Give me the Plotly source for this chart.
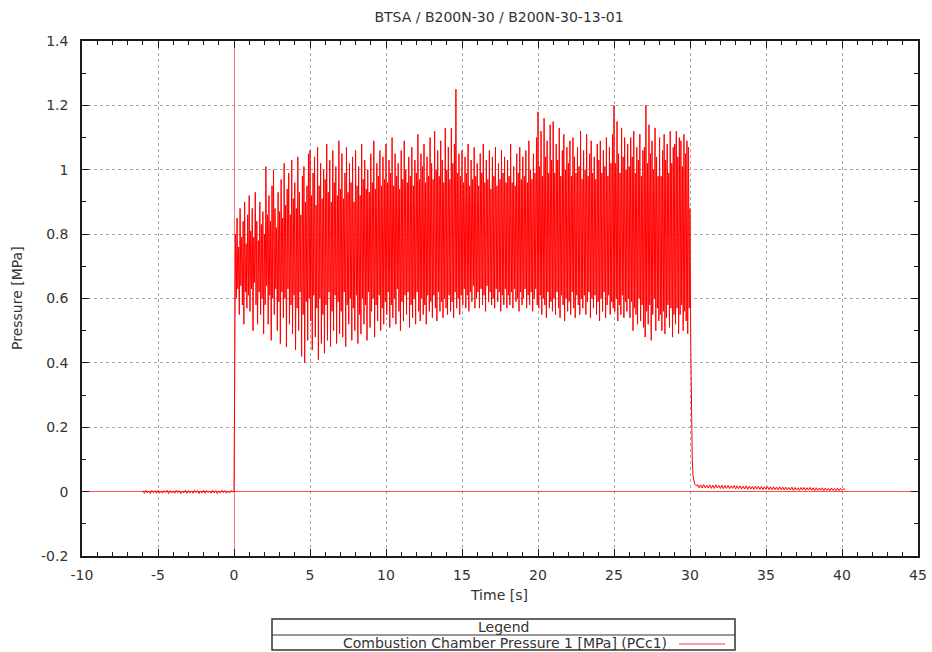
import plotly.graph_objects as go

# ---------------- data ----------------
TITLE = "BTSA / B200N-30 / B200N-30-13-01"
SERIES_NAME = "Combustion Chamber Pressure 1 [MPa] (PCc1)"
LEGEND_TITLE = "Legend"
X_TITLE = "Time [s]"
Y_TITLE = "Pressure [MPa]"

# pre-ignition baseline: start -6.0 s, one sample every 0.1 s
pre_start, pre_step = -6.0, 0.1
pre_values = [0.003, -0.005, 0.004, -0.004, 0.002, -0.006, 0.004, -0.003, 0.003, -0.005,
              0.004, -0.004, 0.002, -0.005, 0.003, -0.003, 0.004, -0.006, 0.003, -0.004,
              0.002, -0.005, 0.004, -0.003, 0.003, -0.006, 0.002, -0.004, 0.004, -0.005,
              0.003, -0.004, 0.002, -0.005, 0.004, -0.003, 0.003, -0.006, 0.002, -0.004,
              0.004, -0.005, 0.003, -0.003, 0.002, -0.005, 0.004, -0.004, 0.003, -0.006,
              0.002, -0.004, 0.004, -0.003, 0.003, -0.005, 0.002, -0.004, 0.003, 0.000]

# firing: start 0.0 s, one sample every 0.05 s (peaks and troughs)
burn_start, burn_step = 0.0, 0.05
burn_values = [
    0.00, 0.66, 0.80, 0.60, 0.85, 0.63, 0.76, 0.55, 0.88, 0.64, 0.79, 0.58, 0.84, 0.52, 0.90, 0.62, 0.77, 0.57, 0.86, 0.61,
    0.92, 0.56, 0.81, 0.63, 0.88, 0.50, 0.79, 0.65, 0.93, 0.58, 0.84, 0.52, 0.78, 0.62, 0.90, 0.55, 0.83, 0.60, 0.87, 0.49,
    0.80, 0.58, 1.01, 0.64, 0.86, 0.52, 0.92, 0.61, 0.84, 0.47, 0.95, 0.60, 1.00, 0.55, 0.88, 0.63, 0.82, 0.50, 0.93, 0.59,
    0.87, 0.46, 0.97, 0.62, 0.85, 0.54, 1.02, 0.60, 0.89, 0.45, 0.94, 0.63, 0.99, 0.52, 0.86, 0.58, 1.03, 0.49, 0.91, 0.61,
    0.96, 0.44, 0.88, 0.57, 1.04, 0.50, 0.93, 0.62, 0.86, 0.42, 0.98, 0.55, 1.01, 0.40, 0.90, 0.59, 0.95, 0.47, 1.05, 0.60,
    1.06, 0.53, 0.92, 0.44, 0.99, 0.61, 1.04, 0.48, 0.89, 0.57, 1.07, 0.41, 0.95, 0.60, 1.02, 0.46, 0.91, 0.55, 1.00, 0.43,
    0.97, 0.58, 1.08, 0.47, 0.93, 0.62, 1.03, 0.45, 0.90, 0.56, 1.06, 0.50, 0.96, 0.61, 1.01, 0.46, 0.92, 0.59, 1.09, 0.49,
    0.94, 0.56, 1.05, 0.48, 0.91, 0.62, 0.99, 0.45, 1.07, 0.58, 0.93, 0.52, 1.02, 0.60, 0.96, 0.47, 1.04, 0.57, 0.90, 0.50,
    1.06, 0.61, 0.95, 0.46, 1.01, 0.55, 0.92, 0.49, 1.08, 0.60, 0.97, 0.52, 1.03, 0.58, 0.94, 0.47, 1.00, 0.62, 0.93, 0.51,
    1.05, 0.56, 0.96, 0.60, 1.09, 0.48, 0.94, 0.58, 1.02, 0.53, 0.98, 0.61, 1.06, 0.50, 0.95, 0.57, 1.04, 0.52, 0.97, 0.59,
    1.08, 0.55, 0.96, 0.62, 1.03, 0.51, 0.99, 0.58, 1.10, 0.54, 0.95, 0.60, 1.05, 0.52, 0.98, 0.63, 1.02, 0.56, 0.94, 0.50,
    1.06, 0.59, 0.97, 0.53, 1.09, 0.61, 1.00, 0.55, 0.96, 0.62, 1.04, 0.51, 0.98, 0.58, 1.07, 0.54, 0.95, 0.60, 1.03, 0.52,
    0.99, 0.62, 1.11, 0.56, 0.97, 0.53, 1.05, 0.60, 1.01, 0.55, 1.08, 0.58, 0.96, 0.52, 1.04, 0.61, 0.98, 0.56, 1.10, 0.59,
    1.02, 0.54, 0.97, 0.61, 1.12, 0.57, 1.00, 0.53, 1.06, 0.62, 0.98, 0.56, 1.09, 0.59, 1.03, 0.54, 0.96, 0.60, 1.13, 0.57,
    1.00, 0.55, 1.07, 0.61, 0.97, 0.56, 1.13, 0.59, 1.02, 0.54, 1.08, 0.62, 1.25, 0.57, 0.99, 0.60, 1.05, 0.55, 0.98, 0.61,
    1.06, 0.58, 0.96, 0.63, 1.04, 0.57, 0.99, 0.61, 1.08, 0.56, 0.95, 0.62, 1.03, 0.59, 0.97, 0.64, 1.07, 0.57, 0.98, 0.60,
    1.02, 0.62, 0.95, 0.57, 1.05, 0.63, 0.99, 0.58, 1.08, 0.61, 0.96, 0.56, 1.03, 0.64, 0.97, 0.59, 1.06, 0.62, 0.94, 0.58,
    1.04, 0.60, 0.98, 0.57, 1.07, 0.63, 0.95, 0.59, 1.02, 0.62, 0.97, 0.56, 1.06, 0.61, 0.99, 0.58, 1.04, 0.63, 0.96, 0.57,
    1.03, 0.61, 0.98, 0.58, 1.08, 0.62, 0.96, 0.57, 1.01, 0.63, 0.95, 0.59, 1.05, 0.60, 0.99, 0.56, 1.07, 0.62, 0.97, 0.58,
    1.04, 0.60, 0.98, 0.63, 1.06, 0.57, 0.96, 0.61, 1.09, 0.58, 1.00, 0.62, 0.97, 0.56, 1.05, 0.60, 0.99, 0.63, 1.10, 0.58,
    1.18, 0.57, 1.01, 0.61, 1.12, 0.55, 0.98, 0.60, 1.16, 0.58, 1.04, 0.54, 1.09, 0.62, 0.99, 0.57, 1.14, 0.59, 1.03, 0.56,
    1.15, 0.60, 0.99, 0.55, 1.08, 0.62, 1.03, 0.57, 1.13, 0.54, 0.98, 0.61, 1.06, 0.58, 1.11, 0.53, 1.00, 0.60, 1.07, 0.56,
    1.02, 0.59, 1.09, 0.55, 0.98, 0.62, 1.10, 0.57, 1.04, 0.54, 0.99, 0.61, 1.07, 0.58, 1.01, 0.55, 1.12, 0.60, 0.97, 0.57,
    1.06, 0.61, 1.00, 0.55, 1.11, 0.59, 0.98, 0.62, 1.05, 0.54, 1.09, 0.60, 0.99, 0.57, 1.04, 0.61, 0.97, 0.55, 1.08, 0.59,
    1.03, 0.53, 1.09, 0.60, 0.99, 0.56, 1.06, 0.62, 1.01, 0.54, 1.10, 0.58, 0.98, 0.61, 1.07, 0.55, 1.02, 0.59, 1.11, 0.57,
    1.20, 0.56, 1.02, 0.60, 1.15, 0.53, 1.05, 0.58, 0.99, 0.55, 1.13, 0.61, 1.04, 0.54, 1.10, 0.59, 1.00, 0.56, 1.08, 0.60,
    1.01, 0.54, 1.10, 0.59, 1.04, 0.50, 1.12, 0.57, 0.99, 0.55, 1.07, 0.52, 1.03, 0.60, 1.11, 0.53, 0.98, 0.58, 1.06, 0.51,
    1.07, 0.48, 1.20, 0.56, 1.02, 0.52, 1.14, 0.58, 1.05, 0.47, 1.09, 0.55, 1.00, 0.60, 1.13, 0.50, 1.04, 0.57, 0.98, 0.53,
    1.10, 0.55, 0.98, 0.50, 1.06, 0.56, 1.11, 0.49, 1.03, 0.54, 1.08, 0.58, 0.99, 0.51, 1.12, 0.57, 1.02, 0.48, 1.07, 0.55,
    1.08, 0.52, 1.12, 0.57, 1.04, 0.49, 1.10, 0.55, 1.09, 0.58, 1.01, 0.50, 1.11, 0.56, 1.05, 0.53, 1.09, 0.49, 1.07, 0.57,
]

# shutdown transient: start 30.0 s, one sample every 0.05 s
drop_start, drop_step = 30.0, 0.05
drop_values = [0.88, 0.45, 0.22, 0.10, 0.05, 0.03, 0.024, 0.021, 0.020, 0.018]

# tail-off: start 30.5 s, one sample every 0.1 s
tail_start, tail_step = 30.5, 0.1
tail_values = [0.022, 0.012, 0.021, 0.011, 0.022, 0.012, 0.020, 0.011, 0.021, 0.010,
               0.020, 0.010, 0.021, 0.011, 0.019, 0.010, 0.020, 0.009, 0.019, 0.010,
               0.019, 0.009, 0.018, 0.010, 0.019, 0.008, 0.018, 0.009, 0.018, 0.008,
               0.017, 0.008, 0.018, 0.007, 0.017, 0.008, 0.016, 0.007, 0.017, 0.008,
               0.016, 0.007, 0.016, 0.006, 0.015, 0.007, 0.016, 0.006, 0.015, 0.006,
               0.015, 0.006, 0.014, 0.005, 0.015, 0.006, 0.014, 0.005, 0.014, 0.006,
               0.013, 0.005, 0.014, 0.004, 0.013, 0.005, 0.012, 0.004, 0.013, 0.005,
               0.013, 0.004, 0.012, 0.005, 0.013, 0.004, 0.012, 0.003, 0.012, 0.004,
               0.011, 0.004, 0.012, 0.003, 0.011, 0.004, 0.010, 0.003, 0.011, 0.004,
               0.010, 0.003, 0.011, 0.003, 0.010, 0.004, 0.009, 0.006]

x_tick_vals = [-10, -5, 0, 5, 10, 15, 20, 25, 30, 35, 40, 45]
x_tick_text = ["-10", "-5", "0", "5", "10", "15", "20", "25", "30", "35", "40", "45"]
y_tick_vals = [-0.2, 0, 0.2, 0.4, 0.6, 0.8, 1.0, 1.2, 1.4]
y_tick_text = ["-0.2", "0", "0.2", "0.4", "0.6", "0.8", "1", "1.2", "1.4"]

# ---------------- assemble samples ----------------
def segment(start, step, vals):
    return [round(start + i * step, 4) for i in range(len(vals))], list(vals)

t, p = [], []
for s, st, v in [(pre_start, pre_step, pre_values), (burn_start, burn_step, burn_values),
                 (drop_start, drop_step, drop_values), (tail_start, tail_step, tail_values)]:
    tt, vv = segment(s, st, v)
    t += tt
    p += vv

# ---------------- layout geometry (pixels) ----------------
W, H = 932, 652
L, R, T, B = 82, 918, 41, 556

def px(x):
    return (x - L) / (R - L)

def py(y):
    return (B - y) / (B - T)

FONT = "DejaVu Sans, Liberation Sans, Arial, sans-serif"
TXT = "#333333"
FS = 14

fig = go.Figure()
fig.add_trace(go.Scatter(
    x=t, y=p, mode="lines", name=SERIES_NAME,
    line=dict(color="#ff0000", width=1.0), showlegend=False,
))

axis_common = dict(
    showline=True, linecolor="#1a1a1a", linewidth=1.6, mirror="allticks",
    ticks="inside", ticklen=7, tickwidth=1.4, tickcolor="#1a1a1a",
    showgrid=True, gridcolor="#a8a8a8", griddash="dot", gridwidth=1,
    tickfont=dict(family=FONT, size=FS, color=TXT),
)

fig.update_xaxes(
    range=[-10, 45], tickvals=x_tick_vals, ticktext=x_tick_text,
    zeroline=True, zerolinecolor="rgba(255,0,0,0.55)", zerolinewidth=1.2,
    minor=dict(dtick=1, ticks="inside", ticklen=4, tickwidth=1.2, tickcolor="#1a1a1a", showgrid=False),
    ticklabelstandoff=5,
    **axis_common,
)
fig.update_yaxes(
    range=[-0.2, 1.4], tickvals=y_tick_vals, ticktext=y_tick_text,
    zeroline=True, zerolinecolor="rgba(255,0,0,0.7)", zerolinewidth=1,
    minor=dict(dtick=0.1, ticks="inside", ticklen=4, tickwidth=1.2, tickcolor="#1a1a1a", showgrid=False),
    ticklabelstandoff=9,
    **axis_common,
)

annotations = [
    dict(text=X_TITLE, x=px(499), y=py(595), xref="paper", yref="paper",
         showarrow=False, font=dict(family=FONT, size=FS, color=TXT),
         xanchor="center", yanchor="middle"),
    dict(text=Y_TITLE, x=px(17), y=py(298), xref="paper", yref="paper",
         showarrow=False, textangle=-90, font=dict(family=FONT, size=FS, color=TXT),
         xanchor="center", yanchor="middle"),
    dict(text=LEGEND_TITLE, x=px(503), y=py(627), xref="paper", yref="paper",
         showarrow=False, font=dict(family=FONT, size=FS, color=TXT),
         xanchor="center", yanchor="middle"),
    dict(text=SERIES_NAME, x=px(669), y=py(642.5), xref="paper", yref="paper",
         showarrow=False, font=dict(family=FONT, size=FS, color=TXT),
         xanchor="right", yanchor="middle"),
]

shapes = [
    dict(type="rect", xref="paper", yref="paper", x0=px(272), x1=px(735),
         y0=py(619), y1=py(650), line=dict(color="#333333", width=1.5)),
    dict(type="line", xref="paper", yref="paper", x0=px(272), x1=px(735),
         y0=py(635), y1=py(635), line=dict(color="#333333", width=1.2)),
    dict(type="line", xref="paper", yref="paper", x0=px(679), x1=px(725),
         y0=py(644), y1=py(644), line=dict(color="rgba(255,0,0,0.4)", width=2)),
]

fig.update_layout(
    width=W, height=H,
    margin=dict(l=L, r=W - R, t=T, b=H - B, autoexpand=False),
    paper_bgcolor="white", plot_bgcolor="white",
    title=dict(text=TITLE, x=499 / W, xref="container", xanchor="center",
               y=1 - 17 / H, yref="container", yanchor="middle",
               font=dict(family=FONT, size=FS, color=TXT)),
    annotations=annotations, shapes=shapes,
    showlegend=False,
)

fig.write_html("out.html", config={"displayModeBar": False},
               post_script="document.body.style.margin='0';")
